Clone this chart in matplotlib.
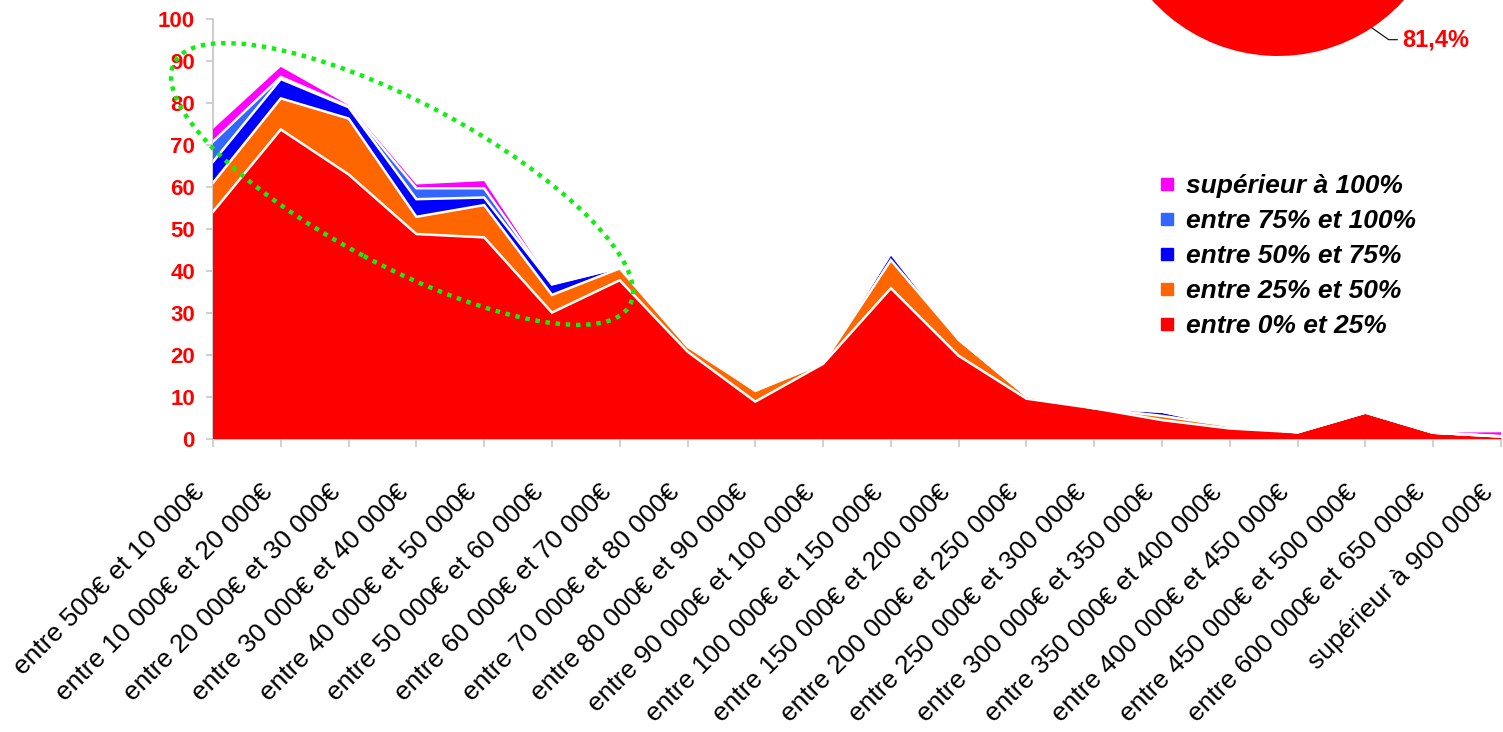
import numpy as np
import matplotlib
matplotlib.use('Agg')
import matplotlib.pyplot as plt
from matplotlib.patches import Ellipse
from matplotlib.lines import Line2D
from matplotlib.transforms import ScaledTranslation

plt.rcParams['font.family'] = ['Liberation Sans', 'DejaVu Sans']

# tranches de prix
categories = ["entre 500€ et 10 000€", "entre 10 000€ et 20 000€", "entre 20 000€ et 30 000€",
              "entre 30 000€ et 40 000€", "entre 40 000€ et 50 000€", "entre 50 000€ et 60 000€",
              "entre 60 000€ et 70 000€", "entre 70 000€ et 80 000€", "entre 80 000€ et 90 000€",
              "entre 90 000€ et 100 000€", "entre 100 000€ et 150 000€", "entre 150 000€ et 200 000€",
              "entre 200 000€ et 250 000€", "entre 250 000€ et 300 000€", "entre 300 000€ et 350 000€",
              "entre 350 000€ et 400 000€", "entre 400 000€ et 450 000€", "entre 450 000€ et 500 000€",
              "entre 600 000€ et 650 000€", "supérieur à 900 000€"]

# series (stacked)
s_0_25 = [54.1, 73.7, 63.0, 48.8, 48.0, 30.1, 37.8, 20.8, 8.9, 17.9,
          35.9, 19.8, 9.6, 7.3, 4.5, 2.5, 1.6, 6.3, 1.5, 0.6]
s_25_50 = [6.9, 7.4, 13.3, 4.1, 7.7, 4.2, 2.8, 1.2, 2.6, 0.1,
           6.7, 3.8, 0.7, 0.0, 1.0, 0.6, 0.0, 0.0, 0.0, 0.0]
s_50_75 = [5.0, 4.6, 2.7, 4.2, 1.8, 2.5, 0.2, 0.5, 0.0, 0.3,
           1.6, 0.1, 0.0, 0.1, 1.0, 0.0, 0.0, 0.0, 0.0, 0.0]
s_75_100 = [4.8, 0.5, 0.2, 2.6, 2.2, 0.1, 0.0, 0.1, 0.0, 0.1,
            0.0, 0.0, 0.0, 0.0, 0.0, 0.0, 0.0, 0.0, 0.0, 0.1]
s_100 = [3.0, 2.4, 0.3, 0.9, 1.7, 0.1, 0.0, 0.0, 0.0, 0.0,
         0.1, 0.3, 0.1, 0.0, 0.0, 0.1, 0.0, 0.0, 0.0, 0.9]

series_labels = ["entre 0% et 25%", "entre 25% et 50%", "entre 50% et 75%",
                 "entre 75% et 100%", "supérieur à 100%"]
colors = ['#FF0000', '#FF6600', '#0000FF', '#3366FF', '#FF00FF']

pie_values = [81.4, 18.6]
pie_colors = ['#FF0000', '#FF6600']

W, H = 1503, 732
fig = plt.figure(figsize=(W / 100, H / 100), dpi=100)
ax = fig.add_axes([213 / W, (H - 439) / H, (1501 - 213) / W, 420 / H])

x = np.arange(len(categories))
layers = [s_0_25, s_25_50, s_50_75, s_75_100, s_100]
ax.stackplot(x, *layers, colors=colors, lw=0, zorder=2)
# white separation lines on top of each layer
cum = np.cumsum(np.array(layers), axis=0)
for top in cum[:-1]:
    ax.plot(x, top, color='white', lw=1.8, zorder=3, solid_joinstyle='miter')

ax.set_xlim(0, len(categories) - 1)
ax.set_ylim(0, 100)
ax.set_yticks(range(0, 101, 10))
for s in ['top', 'right']:
    ax.spines[s].set_visible(False)
for s in ['left', 'bottom']:
    ax.spines[s].set_color('#C8C8C8')
    ax.spines[s].set_linewidth(1.3)
    ax.spines[s].set_zorder(1)
ax.tick_params(axis='y', direction='out', length=5, width=1.2, color='#C8C8C8',
               pad=8, labelsize=16, labelcolor='#FF0000')
for lab in ax.get_yticklabels():
    lab.set_fontweight('bold')
ax.tick_params(axis='x', direction='out', length=6, width=1.2, color='#C8C8C8', pad=30)
ax.set_xticks(x)
ax.set_xticklabels(categories, rotation=45, ha='right', va='center',
                   rotation_mode='anchor', fontsize=19)
shift = ScaledTranslation(-0.12, 0, fig.dpi_scale_trans)
for lab in ax.get_xticklabels():
    lab.set_transform(lab.get_transform() + shift)

# legend
handles = [Line2D([], [], ls='none', marker='s', ms=8, mec=c, mfc=c) for c in colors]
leg = ax.legend(handles[::-1], series_labels[::-1], loc='upper left',
                bbox_to_anchor=(1135 / W, 1 - 150 / H), bbox_transform=fig.transFigure,
                frameon=False, handlelength=0.6, handletextpad=0.42, labelspacing=0.42,
                prop={'size': 19, 'weight': 'bold', 'style': 'italic'})

# dotted ellipse
ell = Ellipse((4.02, (H - 184) / 100), 5.16, 1.63, angle=-28, transform=fig.dpi_scale_trans,
              fill=False, edgecolor='#11EE11', lw=3.2, linestyle=(0, (1, 1.3)),
              clip_on=False, zorder=5)
ax.add_patch(ell)

# pie, mostly above the figure
r = 170
axp = fig.add_axes([(1278 - r) / W, (H + 114 - r) / H, 2 * r / W, 2 * r / H])
axp.pie(pie_values, colors=pie_colors, startangle=90, counterclock=False,
        wedgeprops={'linewidth': 0})
axp.set_xlim(-1, 1)
axp.set_ylim(-1, 1)
axp.set_aspect('equal')
mid = np.deg2rad(90 - 360 * pie_values[0] / sum(pie_values) / 2)
x0, y0 = np.cos(mid), np.sin(mid)
axp.plot([x0, x0 + 0.1, x0 + 0.15], [y0, y0 - 0.07, y0 - 0.07], color='black', lw=0.8,
         clip_on=False)
axp.text(x0 + 0.18, y0 - 0.07, "81,4%", color='#FF0000', fontsize=17, fontweight='bold',
         ha='left', va='center', clip_on=False)

fig.savefig('out.png', dpi=100)
